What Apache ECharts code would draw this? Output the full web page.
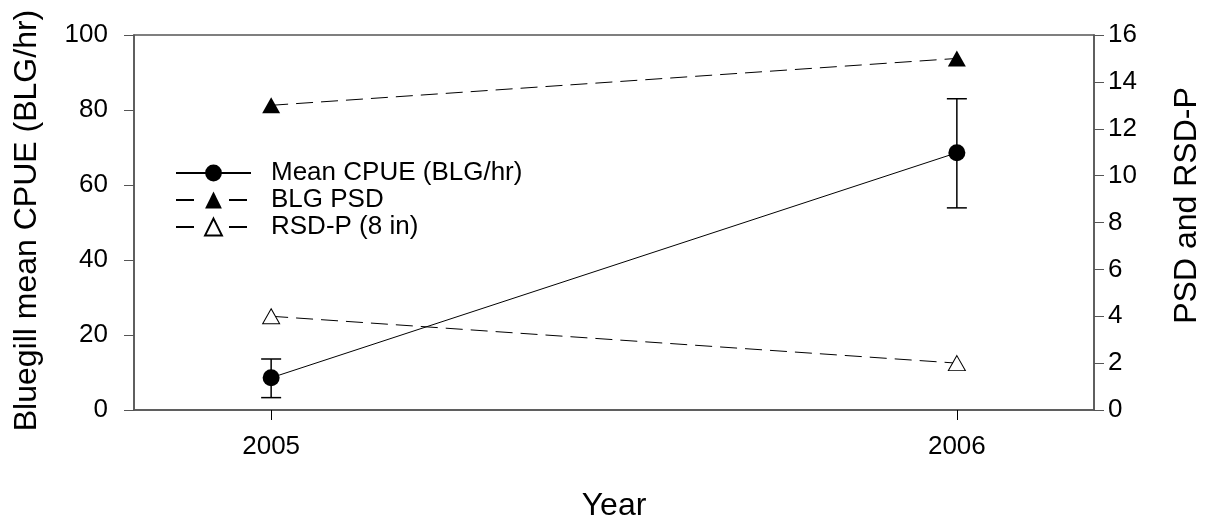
<!DOCTYPE html>
<html>
<head>
<meta charset="utf-8">
<script src="https://cdn.jsdelivr.net/npm/echarts@6/dist/echarts.min.js"></script>
<style>
html,body{margin:0;padding:0;background:#fff;}
#chart{width:1205px;height:519px;}
</style>
</head>
<body>
<div id="chart"></div>
<script>
const years = [2005, 2006];
const cpueMean = [8.6, 68.6];
const cpueLow = [3.3, 53.9];
const cpueHigh = [13.6, 83.0];
const blgPsd = [13, 15];
const rsdP = [4, 2];
const xTickValues = [2005, 2006];
const seriesNames = ['Mean CPUE (BLG/hr)', 'BLG PSD', 'RSD-P (8 in)'];

const FONT = '"Liberation Sans", Arial, sans-serif';
const AX = '#555';
const chart = echarts.init(document.getElementById('chart'));

const option = {
  animation: false,
  backgroundColor: '#fff',
  textStyle: { fontFamily: FONT, color: '#000' },
  grid: { left: 134, right: 111, top: 35, bottom: 109, outerBoundsMode: 'none', containLabel: false,
          show: true, borderColor: AX, borderWidth: 1.5, backgroundColor: 'transparent' },
  legend: {
    orient: 'vertical',
    left: 175, top: 160,
    padding: 0,
    itemGap: 1,
    itemWidth: 75,
    itemHeight: 21,
    textStyle: { fontSize: 26, fontFamily: FONT, color: '#000', padding: [0, 0, 0, 15] },
    data: [
      { name: seriesNames[0] },
      { name: seriesNames[1], lineStyle: { type: [18, 35] } },
      { name: seriesNames[2], lineStyle: { type: [18, 35] } }
    ]
  },
  xAxis: {
    type: 'value', min: 2004.8, max: 2006.2,
    name: 'Year', nameLocation: 'middle', nameGap: 80,
    nameTextStyle: { fontSize: 32, fontFamily: FONT, color: '#000' },
    axisLine: { show: true, lineStyle: { color: AX, width: 1.5 } },
    axisTick: { show: true, inside: false, length: 10, customValues: xTickValues, lineStyle: { color: '#000', width: 1 } },
    axisLabel: { customValues: xTickValues, fontSize: 26, margin: 24, color: '#000', fontFamily: FONT, formatter: v => String(v) },
    splitLine: { show: false }
  },
  yAxis: [
    {
      type: 'value', min: 0, max: 100, interval: 20, position: 'left',
      name: 'Bluegill mean CPUE (BLG/hr)', nameLocation: 'middle', nameGap: 91, nameRotate: 90,
      nameTextStyle: { fontSize: 32, fontFamily: FONT, color: '#000', padding: [0, 0, 0, 4] },
      axisLine: { show: true, lineStyle: { color: AX, width: 1.5 } },
      axisTick: { show: true, length: 10, lineStyle: { color: AX, width: 1 } },
      axisLabel: { fontSize: 26, margin: 26, color: '#000', fontFamily: FONT },
      splitLine: { show: false }
    },
    {
      type: 'value', min: 0, max: 16, interval: 2, position: 'right',
      name: 'PSD and RSD-P', nameLocation: 'middle', nameGap: 77, nameRotate: 90,
      nameTextStyle: { fontSize: 32, fontFamily: FONT, color: '#000', padding: [0, 0, 0, 34] },
      axisLine: { show: true, lineStyle: { color: AX, width: 1.5 } },
      axisTick: { show: true, length: 10, lineStyle: { color: AX, width: 1 } },
      axisLabel: { fontSize: 26, margin: 14, color: '#000', fontFamily: FONT },
      splitLine: { show: false }
    }
  ],
  series: [
    {
      type: 'custom', name: 'errorbar', yAxisIndex: 0, z: 1, silent: true,
      data: years.map((y, i) => [y, cpueLow[i], cpueHigh[i]]),
      renderItem: function (params, api) {
        const x = api.value(0);
        const lo = api.coord([x, api.value(1)]);
        const hi = api.coord([x, api.value(2)]);
        const w = 10;
        const st = { stroke: '#000', lineWidth: 1.5 };
        return {
          type: 'group',
          children: [
            { type: 'line', shape: { x1: lo[0], y1: lo[1], x2: hi[0], y2: hi[1] }, style: st },
            { type: 'line', shape: { x1: lo[0] - w, y1: lo[1], x2: lo[0] + w, y2: lo[1] }, style: st },
            { type: 'line', shape: { x1: hi[0] - w, y1: hi[1], x2: hi[0] + w, y2: hi[1] }, style: st }
          ]
        };
      }
    },
    {
      type: 'line', name: seriesNames[0], yAxisIndex: 0, z: 3,
      data: years.map((y, i) => [y, cpueMean[i]]),
      symbol: 'circle', symbolSize: 17,
      lineStyle: { color: '#000', width: 1 },
      itemStyle: { color: '#000', borderColor: '#000', borderWidth: 0 }
    },
    {
      type: 'line', name: seriesNames[1], yAxisIndex: 1, z: 3,
      data: years.map((y, i) => [y, blgPsd[i]]),
      symbol: 'triangle', symbolSize: [18, 16],
      lineStyle: { color: '#000', width: 1, type: [17, 8] },
      itemStyle: { color: '#000', borderColor: '#000', borderWidth: 0 }
    },
    {
      type: 'line', name: seriesNames[2], yAxisIndex: 1, z: 3,
      data: years.map((y, i) => [y, rsdP[i]]),
      symbol: 'triangle', symbolSize: [17, 15],
      lineStyle: { color: '#000', width: 1, type: [17, 8] },
      itemStyle: { color: '#fff', borderColor: '#000', borderWidth: 1 }
    }
  ]
};
chart.setOption(option);
</script>
</body>
</html>
